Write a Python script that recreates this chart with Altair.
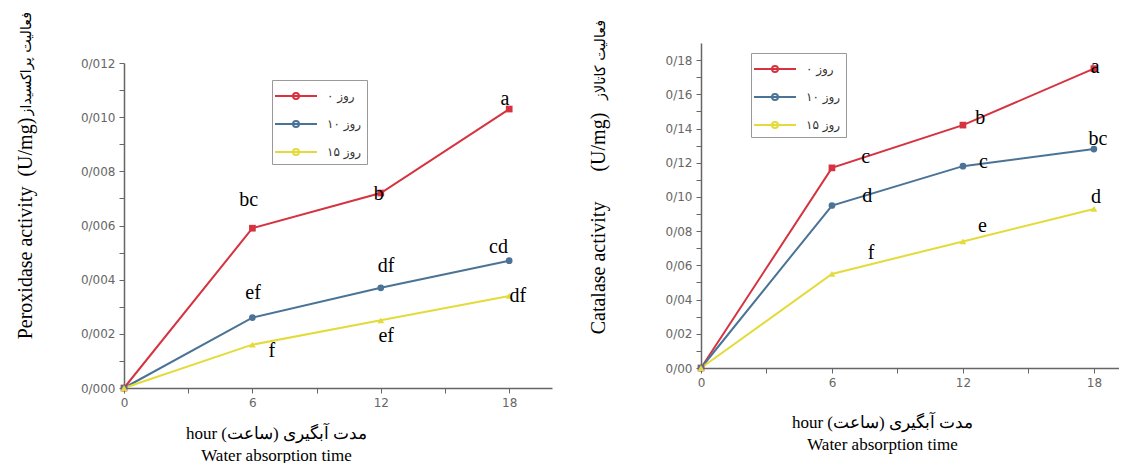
import altair as alt
import pandas as pd

hours = [0, 6, 12, 18]
series_labels = ["۰ روز", "۱۰ روز", "۱۵ روز"]
colors = ["#d63340", "#4a7396", "#e3db3a"]
shapes = ["square", "circle", "triangle-up"]

pox_0 = [0, 0.0059, 0.0072, 0.0103]
pox_10 = [0, 0.0026, 0.0037, 0.0047]
pox_15 = [0, 0.0016, 0.0025, 0.0034]

cat_0 = [0, 0.117, 0.142, 0.175]
cat_10 = [0, 0.095, 0.118, 0.128]
cat_15 = [0, 0.055, 0.074, 0.093]

pox_letters = ["bc", "b", "a", "ef", "df", "cd", "f", "ef", "df"]
pox_letter_x = [5.83, 11.9, 17.8, 6.03, 12.25, 17.5, 6.91, 12.25, 18.4]
pox_letter_y = [0.00693, 0.00718, 0.01066, 0.00349, 0.00452, 0.0052, 0.00136, 0.00192, 0.00338]

cat_letters = ["c", "b", "a", "d", "c", "bc", "f", "e", "d"]
cat_letter_x = [7.54, 12.79, 18.06, 7.62, 12.94, 18.18, 7.79, 12.89, 18.1]
cat_letter_y = [0.1233, 0.1462, 0.1761, 0.1004, 0.1203, 0.1336, 0.0675, 0.0831, 0.0998]

pox_yticks = [i / 1000 for i in range(13)]
cat_yticks = [i / 100 for i in range(19)]
x_ticks = [0, 3, 6, 9, 12, 15, 18]

pox_title_en = "Peroxidase activity\u00a0\u00a0(U/mg)"
pox_title_fa = "فعالیت پراکسیداز"
cat_title_en = "Catalase activity" + "\u00a0" * 6 + "(U/mg)"
cat_title_fa = "فعالیت کاتالاز"
x_title = ["hour \u202bمدت آبگیری (ساعت)\u202c", "Water absorption time"]


def long_df(series_values):
    rows = []
    for lab, vals in zip(series_labels, series_values):
        for h, v in zip(hours, vals):
            rows.append({"hour": h, "value": v, "series": lab})
    return pd.DataFrame(rows)


LEGEND_PATH = "M-2.1,0H2.1M-0.3,0A0.3,0.3 0 1,0 0.3,0A0.3,0.3 0 1,0 -0.3,0"


def panel(df, ldf, ydomain, yrange, yvalues, ylabel_expr, ytitle, ytitle_x, ytitle_y,
          fa_title, fa_offset, fa_dx, fa_dy,
          xdomain, xoffset, xtitle_x, xtitle_y, legend_x, legend_y, width, height):
    xax = alt.Axis(values=x_ticks, tickCount=40,
                   labelExpr="datum.value % 6 == 0 ? format(datum.value, 'd') : ''",
                   labelFont="DejaVu Sans", labelFontSize=12, labelColor="#666",
                   tickColor="#666", domainColor="#666", domainWidth=1.5,
                   tickSize=5, labelPadding=4, grid=False, offset=xoffset,
                   labelOverlap=False, labelFlush=False, labelBound=False,
                   title=x_title, titleFont="Liberation Serif", titleFontSize=17,
                   titleFontWeight="normal", titleColor="black",
                   titleX=xtitle_x, titleY=xtitle_y, titleAlign="center",
                   titleBaseline="top", titleLineHeight=22.5)
    yax = alt.Axis(values=yvalues, tickCount=40, labelExpr=ylabel_expr,
                   labelFont="DejaVu Sans", labelFontSize=12, labelColor="#666",
                   tickColor="#666", domainColor="#666", domainWidth=1.5,
                   tickSize=5, labelPadding=4, grid=False,
                   labelOverlap=False, labelFlush=False, labelBound=False,
                   title=ytitle, titleFont="Liberation Serif", titleFontSize=20,
                   titleFontWeight="normal", titleColor="black",
                   titleAngle=270, titleX=ytitle_x, titleY=ytitle_y,
                   titleAlign="center", titleBaseline="middle")
    x = alt.X("hour:Q", scale=alt.Scale(domain=xdomain, nice=False, zero=False), axis=xax)
    y = alt.Y("value:Q", scale=alt.Scale(domain=ydomain, range=yrange, nice=False), axis=yax)
    cscale = alt.Scale(domain=series_labels, range=colors)
    lines = alt.Chart(df).mark_line(strokeWidth=2).encode(
        x=x, y=y,
        color=alt.Color("series:N", scale=cscale, sort=series_labels,
                        legend=alt.Legend(title=None, orient="none",
                                          legendX=legend_x, legendY=legend_y,
                                          symbolType=LEGEND_PATH, symbolSize=400,
                                          symbolStrokeWidth=2, symbolOffset=8,
                                          labelOffset=20, padding=5, rowPadding=10,
                                          strokeColor="#999", fillColor="white",
                                          labelFont="DejaVu Sans", labelFontSize=12,
                                          labelColor="#333")))
    layers = [lines]
    for lab, col, shp in zip(series_labels, colors, shapes):
        layers.append(
            alt.Chart(df).transform_filter(alt.datum.series == lab)
            .mark_point(filled=True, opacity=1, size=45, color=col, shape=shp)
            .encode(x=x, y=y))
    texts = alt.Chart(ldf).mark_text(font="Liberation Serif", fontSize=20, color="black",
                                     baseline="middle", align="center").encode(
        x=alt.X("x:Q"), y=alt.Y("y:Q"), text="label:N")
    layers.append(texts)
    return alt.layer(*layers).properties(
        width=width, height=height,
        title=alt.TitleParams(text=fa_title, orient="left", anchor="end", frame="group",
                              font="DejaVu Sans", fontSize=14.3, fontWeight="normal",
                              color="black", offset=fa_offset, dx=fa_dx, dy=fa_dy))


pox_df = long_df([pox_0, pox_10, pox_15])
cat_df = long_df([cat_0, cat_10, cat_15])
pox_ldf = pd.DataFrame({"x": pox_letter_x, "y": pox_letter_y, "label": pox_letters})
cat_ldf = pd.DataFrame({"x": cat_letter_x, "y": cat_letter_y, "label": cat_letters})

left = panel(pox_df, pox_ldf, [0, 0.012], [345, 20], pox_yticks,
             "round(datum.value*1000) % 2 == 0 ? replace(format(datum.value, '.3f'), '.', '/') : ''",
             pox_title_en, -99, 185, pox_title_fa, -18, 31, 1,
             [0, 20], 0, 152, 37, 148, 37, 428, 345)
right = panel(cat_df, cat_ldf, [0, 0.19], [325, 0], cat_yticks,
              "round(datum.value*100) % 2 == 0 ? replace(format(datum.value, '.2f'), '.', '/') : ''",
              cat_title_en, -103, 180, cat_title_fa, -18, 23, 2,
              [0, 19.15], -20, 181, 46, 50, 10, 418, 345)

chart = alt.hconcat(left, right, spacing=36).resolve_scale(
    color="independent"
).resolve_legend(color="independent").properties(
    padding={"left": 7, "top": 4, "right": 0, "bottom": 0}
).configure_view(stroke=None).configure_axis(labelOverlap=False)

chart.save("out.html", embed_options={"renderer": "svg", "actions": False})
